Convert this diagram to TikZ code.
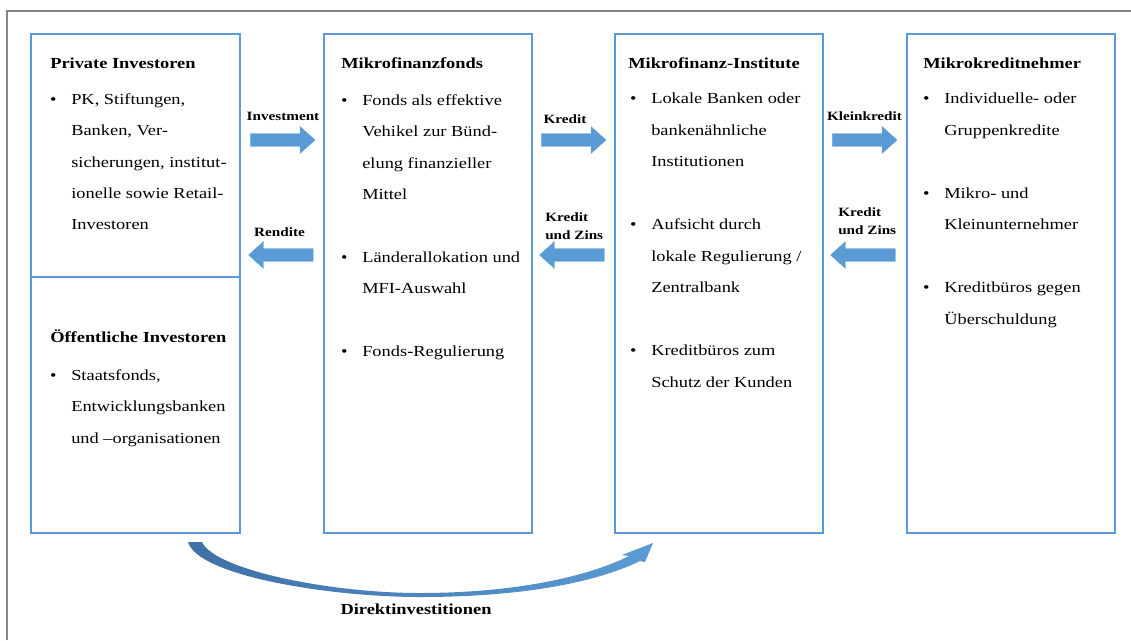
\documentclass[tikz,border=0pt]{standalone}
\usepackage{fontspec}
\setmainfont[FakeStretch=1.2]{Liberation Serif}
\usetikzlibrary{shapes.arrows,fit}

\definecolor{boxblue}{HTML}{5B9BD5}
\definecolor{arrowblue}{HTML}{5B9BD5}
\definecolor{curvedark}{HTML}{3F70A6}
\definecolor{framegray}{HTML}{858585}

\newcommand{\blt}{\leavevmode\llap{\textbullet\hspace{11pt}}}

\begin{document}
\begin{tikzpicture}[x=0.75pt, y=-0.75pt,
    box/.style={draw=boxblue, line width=1.5pt, inner sep=0pt},
    heading/.style={anchor=base west, inner sep=0pt, font=\fontsize{11.5}{14}\selectfont\bfseries},
    bullets/.style={anchor=north west, inner sep=0pt, align=left, font=\fontsize{11.5}{23.6}\selectfont},
    flow/.style={single arrow, fill=arrowblue, draw=arrowblue, line width=0.3pt, inner xsep=0pt, inner ysep=4.7pt,
        minimum height=48.5pt, single arrow head extend=5.2pt, single arrow tip angle=84},
    flowlabel/.style={inner sep=0pt, font=\fontsize{9.5}{13.7}\selectfont\bfseries}]

    \useasboundingbox (0,0) rectangle (1131,640);

    %% Frame
    \draw[framegray, line width=1.5pt] (7,640) -- (7,11) -- (1131,11);

    %% Investors
    \node[box, fit={(31,34) (240,277)}] (priv) {};
    \node[box, fit={(31,277) (240,533)}] (oeff) {};
    \node[heading] (privhead) at (50,68) {Private Investoren};
    \node[bullets] (privlist) at (71,93) {\blt PK, Stiftungen,\\Banken, Ver-\\sicherungen, institut-\\ionelle sowie Retail-\\Investoren};
    \node[heading] (oeffhead) at (50,342) {Öffentliche Investoren};
    \node[bullets] (oefflist) at (71,369) {\blt Staatsfonds,\\Entwicklungsbanken\\und –organisationen};

    %% Funds
    \node[box, fit={(324,34) (532,533)}] (fonds) {};
    \node[heading] (fondshead) at (341,68) {Mikrofinanzfonds};
    \node[bullets] (fondslist) at (362,94) {\blt Fonds als effektive\\Vehikel zur Bünd-\\elung finanzieller\\Mittel\\[23.6pt]\blt Länderallokation und\\MFI-Auswahl\\[23.6pt]\blt Fonds-Regulierung};

    %% Institutions
    \node[box, fit={(615,34) (823,533)}] (mfi) {};
    \node[heading] (mfihead) at (628,68) {Mikrofinanz-Institute};
    \node[bullets] (mfilist) at (651,93) {\blt Lokale Banken oder\\bankenähnliche\\Institutionen\\[23.6pt]\blt Aufsicht durch\\lokale Regulierung /\\Zentralbank\\[23.6pt]\blt Kreditbüros zum\\Schutz der Kunden};

    %% Borrowers
    \node[box, fit={(907,34) (1115,533)}] (nehmer) {};
    \node[heading] (nehmerhead) at (923,68) {Mikrokreditnehmer};
    \node[bullets] (nehmerlist) at (944,93) {\blt Individuelle- oder\\Gruppenkredite\\[23.6pt]\blt Mikro- und\\Kleinunternehmer\\[23.6pt]\blt Kreditbüros gegen\\Überschuldung};

    %% Flows
    \node[flow] (invest) at (279,140) {};
    \node[flow, shape border rotate=180] (rendite) at (284.5,255) {};
    \node[flow] (kredit) at (570,140) {};
    \node[flow, shape border rotate=180] (zins) at (575.5,255) {};
    \node[flow] (klein) at (861,140) {};
    \node[flow, shape border rotate=180] (zinsb) at (866.5,255) {};

    \node[flowlabel, anchor=base] (investlbl) at (283,120.5) {Investment};
    \node[flowlabel, anchor=base] (renditelbl) at (279.5,236.5) {Rendite};
    \node[flowlabel, anchor=base] (kreditlbl) at (565,123) {Kredit};
    \node[flowlabel, anchor=north west, align=left] (zinslbl) at (545,212) {Kredit\\und Zins};
    \node[flowlabel, anchor=base] (kleinlbl) at (864.5,120) {Kleinkredit};
    \node[flowlabel, anchor=north west, align=left] (zinsblbl) at (838,207.5) {Kredit\\und Zins};

    %% Direct investment
    \shade[left color=curvedark, right color=arrowblue]
        (188,542) -- (202,542)
        .. controls (215,570) and (330,593) .. (420,593)
        .. controls (510,593) and (585,578) .. (629,556)
        -- (622,555) -- (653,543) -- (645,562) -- (640,561)
        .. controls (595,583) and (520,597) .. (420,597)
        .. controls (330,597) and (198,576) .. (188,542) -- cycle;
    \node[anchor=base, inner sep=0pt, font=\fontsize{11.5}{14}\selectfont\bfseries] (direkt) at (416,614) {Direktinvestitionen};

\end{tikzpicture}
\end{document}
